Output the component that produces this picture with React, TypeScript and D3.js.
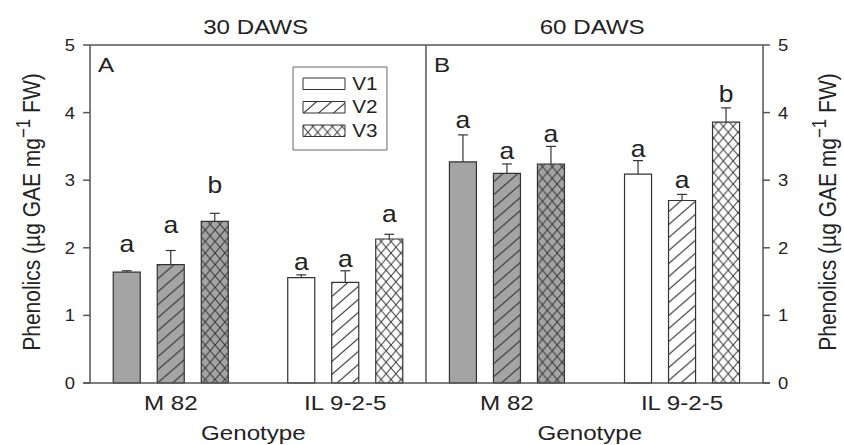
import React from "react";
import * as d3 from "d3";

// values
const genotypes = ["M 82", "IL 9-2-5"];
const versions = ["V1", "V2", "V3"];
const panels = ["30 DAWS", "60 DAWS"];
const panelTags = ["A", "B"];

// means[panel][genotype][version]
const means = [
  [
    [1.64, 1.75, 2.39],
    [1.56, 1.49, 2.13],
  ],
  [
    [3.27, 3.1, 3.24],
    [3.09, 2.7, 3.86],
  ],
];
const errTops = [
  [
    [1.66, 1.96, 2.51],
    [1.6, 1.66, 2.2],
  ],
  [
    [3.67, 3.24, 3.5],
    [3.29, 2.79, 4.07],
  ],
];
const letters = [
  [
    ["a", "a", "b"],
    ["a", "a", "a"],
  ],
  [
    ["a", "a", "a"],
    ["a", "a", "b"],
  ],
];
// baseline of each significance letter, in data units
const letterAt = [
  [
    [1.94, 2.22, 2.81],
    [1.67, 1.72, 2.38],
  ],
  [
    [3.77, 3.31, 3.57],
    [3.35, 2.88, 4.16],
  ],
];
const yTicks = [0, 1, 2, 3, 4, 5];

const SX = 1.15; // picture is stretched horizontally
const W = 844 / SX;
const H = 445;
const font = "'Liberation Sans', Arial, sans-serif";
const grey = "#a4a4a4";
const ink = "#333";

const left = 78.3;
const mid = 370.4;
const right = 663.5;

const y = d3.scaleLinear().domain([0, 5]).range([383, 45]);
const panelRange = [
  [left, mid],
  [mid, right],
];
const sub = d3
  .scaleBand()
  .domain(versions)
  .range([-57.4, 57.4])
  .paddingInner(0.386)
  .paddingOuter(0.193);

function fillFor(g: number, v: number) {
  const base = g === 0 ? "grey" : "white";
  if (v === 0) return g === 0 ? grey : "#fff";
  return `url(#${v === 1 ? "hatch" : "cross"}-${base})`;
}

function Patterns() {
  const defs: any[] = [];
  [
    ["grey", grey],
    ["white", "#fff"],
  ].forEach(([name, bg]) => {
    defs.push(
      <pattern key={"h" + name} id={`hatch-${name}`} patternUnits="userSpaceOnUse" width={13} height={13}>
        <rect width={13} height={13} fill={bg} />
        <path d="M0,13 L13,0 M-3,3 L3,-3 M10,16 L16,10" stroke={ink} strokeWidth={1} />
      </pattern>
    );
    defs.push(
      <pattern key={"c" + name} id={`cross-${name}`} patternUnits="userSpaceOnUse" width={8.5} height={11.5}>
        <rect width={8.5} height={11.5} fill={bg} />
        <path d="M0,0 L8.5,11.5 M0,11.5 L8.5,0" stroke={ink} strokeWidth={0.9} />
      </pattern>
    );
  });
  return <defs>{defs}</defs>;
}

function Panel({ p }: { p: number }) {
  const [x0, x1] = panelRange[p];
  const x = d3.scalePoint().domain(genotypes).range([x0, x1]).padding(0.4625);
  const cx = (x0 + x1) / 2;
  return (
    <g>
      <text x={cx - 2} y={34} textAnchor="middle" fontSize={21} fontFamily={font} fill="#222">
        {panels[p]}
      </text>
      <text x={x0 + 7} y={72} fontSize={21} fontFamily={font} fill="#222">
        {panelTags[p]}
      </text>
      {genotypes.map((gname, g) => (
        <g key={gname}>
          {versions.map((v, vi) => {
            const bx = (x(gname) as number) + (sub(v) as number);
            const bw = sub.bandwidth();
            const m = means[p][g][vi];
            const e = errTops[p][g][vi];
            const c = bx + bw / 2;
            return (
              <g key={v}>
                <rect
                  x={bx}
                  y={y(m)}
                  width={bw}
                  height={y(0) - y(m)}
                  fill={fillFor(g, vi)}
                  stroke={ink}
                  strokeWidth={1.2}
                  vectorEffect="non-scaling-stroke"
                />
                <line x1={c} x2={c} y1={y(m)} y2={y(e)} stroke={ink} strokeWidth={1.2} vectorEffect="non-scaling-stroke" />
                <line x1={c - 4.3} x2={c + 4.3} y1={y(e)} y2={y(e)} stroke={ink} strokeWidth={1.2} vectorEffect="non-scaling-stroke" />
                <text x={c} y={y(letterAt[p][g][vi])} textAnchor="middle" fontSize={23} fontFamily={font} fill="#222">
                  {letters[p][g][vi]}
                </text>
              </g>
            );
          })}
          <text x={x(gname)} y={410} textAnchor="middle" fontSize={21} fontFamily={font} fill="#222">
            {gname}
          </text>
        </g>
      ))}
      <text x={cx - 4} y={440} textAnchor="middle" fontSize={21} fontFamily={font} fill="#222">
        Genotype
      </text>
    </g>
  );
}

function YLabel({ x }: { x: number }) {
  return (
    <text
      transform={`translate(${x},212) rotate(-90)`}
      textAnchor="middle"
      fontSize={21}
      fontFamily={font}
      fill="#222"
    >
      Phenolics (µg GAE mg
      <tspan fontSize={17} dy={-9}>
        −1
      </tspan>
      <tspan dy={9}> FW)</tspan>
    </text>
  );
}

function Legend() {
  const bx = 254.8;
  const by = 67;
  return (
    <g>
      <rect x={bx} y={by} width={81.7} height={83} fill="#fff" stroke="#666" strokeWidth={1} vectorEffect="non-scaling-stroke" />
      {versions.map((v, i) => (
        <g key={v}>
          <rect
            x={bx + 8.7}
            y={by + 11 + i * 23.5}
            width={36.5}
            height={11.5}
            fill={fillFor(1, i)}
            stroke={ink}
            strokeWidth={1}
            vectorEffect="non-scaling-stroke"
          />
          <text x={bx + 51.5} y={by + 23 + i * 23.5} fontSize={18} fontFamily={font} fill="#222">
            {v}
          </text>
        </g>
      ))}
    </g>
  );
}

export default function App() {
  const axis = "#555";
  return (
    <svg
      width={844}
      height={445}
      viewBox={`0 0 ${W} ${H}`}
      preserveAspectRatio="none"
      style={{ position: "absolute", left: 0, top: 0, background: "#fff" }}
    >
      <Patterns />
      <Panel p={0} />
      <Panel p={1} />
      <Legend />
      {/* frame */}
      <line x1={left} x2={right} y1={y(5)} y2={y(5)} stroke={axis} strokeWidth={1.5} vectorEffect="non-scaling-stroke" />
      <line x1={left - 6} x2={right + 6} y1={y(0)} y2={y(0)} stroke={axis} strokeWidth={1.5} vectorEffect="non-scaling-stroke" />
      <line x1={left} x2={left} y1={y(0)} y2={y(5)} stroke={axis} strokeWidth={1.5} vectorEffect="non-scaling-stroke" />
      <line x1={mid} x2={mid} y1={y(0)} y2={y(5)} stroke={axis} strokeWidth={1.5} vectorEffect="non-scaling-stroke" />
      <line x1={right} x2={right} y1={y(0)} y2={y(5)} stroke={axis} strokeWidth={1.5} vectorEffect="non-scaling-stroke" />
      {yTicks.map((t) => (
        <g key={t}>
          <line x1={left - 6} x2={left} y1={y(t)} y2={y(t)} stroke={axis} strokeWidth={1.5} vectorEffect="non-scaling-stroke" />
          <line x1={right} x2={right + 6} y1={y(t)} y2={y(t)} stroke={axis} strokeWidth={1.5} vectorEffect="non-scaling-stroke" />
          <text x={left - 13} y={y(t) + 6} textAnchor="end" fontSize={16} fontFamily={font} fill="#222">
            {t}
          </text>
          <text x={right + 13} y={y(t) + 6} textAnchor="start" fontSize={16} fontFamily={font} fill="#222">
            {t}
          </text>
        </g>
      ))}
      <YLabel x={35} />
      <YLabel x={727} />
    </svg>
  );
}
